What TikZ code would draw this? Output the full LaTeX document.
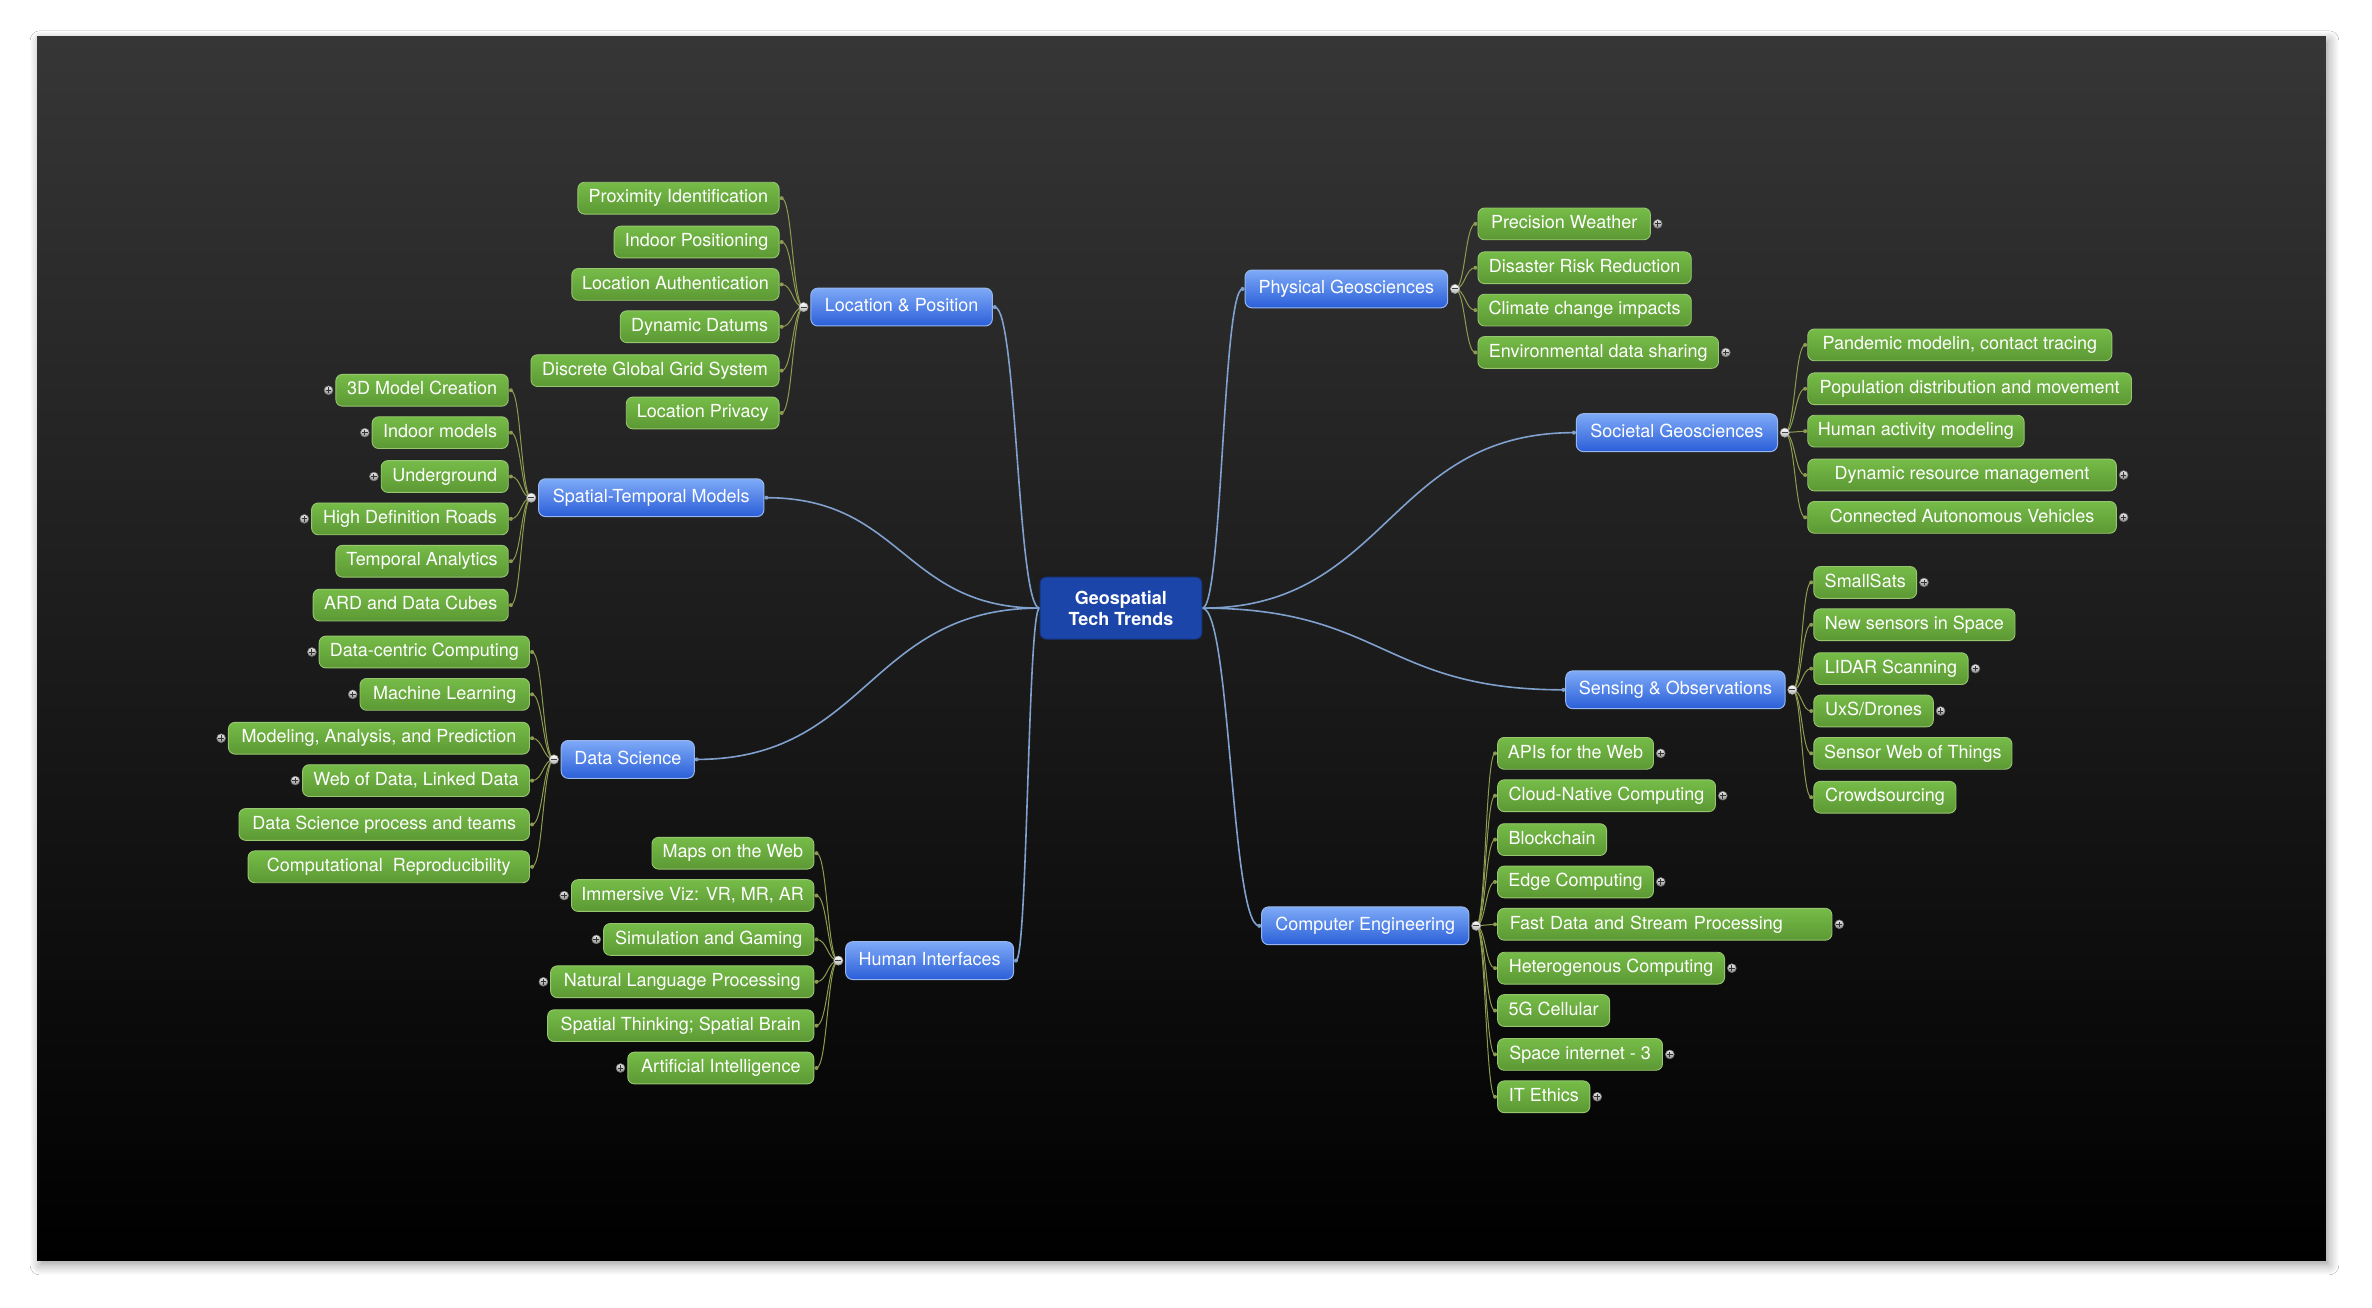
\documentclass[tikz,border=0pt]{standalone}
\usepackage{fontspec}
\setmainfont{TeX Gyre Heros}
\usepackage{tikz}
\usetikzlibrary{calc,positioning,shadows.blur}

\definecolor{panelgray}{RGB}{54,54,54}
\definecolor{hubblue}{RGB}{27,69,168}
\definecolor{hubline}{RGB}{22,52,128}
\definecolor{branchtop}{RGB}{126,170,247}
\definecolor{branchbot}{RGB}{42,94,216}
\definecolor{branchline}{RGB}{150,182,236}
\definecolor{leaftop}{RGB}{118,188,72}
\definecolor{leafbot}{RGB}{92,152,52}
\definecolor{leafline}{RGB}{150,198,112}
\definecolor{hubwirecol}{RGB}{128,160,206}
\definecolor{leafwirecol}{RGB}{140,156,80}

\newlength\pxu
\setlength\pxu{0.7564pt}

\pgfdeclarelayer{panel}
\pgfdeclarelayer{links}
\pgfsetlayers{panel,links,main}

\tikzset{
  hub/.style={rounded corners=3.3pt, fill=hubblue, draw=hubline, line width=.5pt,
    text=white, font=\bfseries\fontsize{9}{10.5}\selectfont, align=center,
    minimum width=107\pxu, minimum height=41\pxu, inner sep=0pt},
  branch/.style={rounded corners=3.5pt, draw=branchline, line width=.5pt,
    top color=branchtop, bottom color=branchbot, text=white,
    font=\fontsize{9}{10.5}\selectfont, text height=6.6pt, text depth=1.9pt,
    minimum height=25\pxu, inner xsep=5pt, inner ysep=0pt, outer xsep=1.2pt},
  branchL/.style={branch, anchor=east, xshift=1.2pt, minimum width=#1\pxu},
  branchR/.style={branch, anchor=west, xshift=-1.2pt, minimum width=#1\pxu},
  leaf/.style={rounded corners=3.3pt, draw=leafline, line width=.45pt,
    top color=leaftop, bottom color=leafbot, text=white,
    font=\fontsize{9}{10.5}\selectfont, text height=6.6pt, text depth=1.9pt,
    minimum height=21\pxu, inner xsep=5pt, inner ysep=0pt, outer xsep=1.3pt},
  leafL/.style={leaf, anchor=east, xshift=1.3pt, minimum width=#1\pxu},
  leafR/.style={leaf, anchor=west, xshift=-1.3pt, minimum width=#1\pxu},
  minusbtn/.style={circle, inner sep=0pt, minimum size=4.6pt, draw=black!40, line width=.3pt,
    top color=white, bottom color=black!30,
    path picture={\draw[black!75, line width=.5pt]
      ([xshift=-1.5pt]path picture bounding box.center) -- ([xshift=1.5pt]path picture bounding box.center);}},
  plusbtn/.style={circle, inner sep=0pt, minimum size=4.4pt, draw=black!55, line width=.3pt,
    top color=black!8, bottom color=black!45,
    path picture={\draw[black!80, line width=.45pt]
      ([xshift=-1.4pt]path picture bounding box.center) -- ([xshift=1.4pt]path picture bounding box.center)
      ([yshift=-1.4pt]path picture bounding box.center) -- ([yshift=1.4pt]path picture bounding box.center);}},
  hubwire/.style={color=hubwirecol, line width=.8pt},
  leafwire/.style={color=leafwirecol, line width=.5pt}
}

% curved connector, level at both ends
\newcommand\link[3][]{%
  \path (#2) -- coordinate[pos=.5] (lkmid) (#3);
  \begin{pgfonlayer}{links}
    \draw[#1] (#2) .. controls (lkmid |- #2) and (lkmid |- #3) .. (#3);
    \fill[#1] (#3) circle (1pt);
  \end{pgfonlayer}}

\begin{document}
\begin{tikzpicture}[x=\pxu, y=-\pxu]
\useasboundingbox (0,0) rectangle (1568,864);
\begin{pgfonlayer}{panel}
  \fill[white] (0,0) rectangle (1568,864);
  \shade[top color=panelgray, bottom color=black,
    blur shadow={shadow blur steps=10, shadow xshift=1.5pt, shadow yshift=-2pt, shadow blur radius=5pt}]
    (24.5,24.3) rectangle (1537.5,833.5);
\end{pgfonlayer}

\node[hub] (hub) at (741,402) {Geospatial\\Tech Trends};

% branches
\node[branchL=120] (lp) at (656,203) {Location \& Position};
\node[branchL=149] (stm) at (505,329) {Spatial-Temporal Models};
\node[branchL=88] (ds) at (459,502) {Data Science};
\node[branchL=111] (hi) at (670,635) {Human Interfaces};
\node[branchR=134] (pg) at (823,191) {Physical Geosciences};
\node[branchR=133] (sg) at (1042,286) {Societal Geosciences};
\node[branchR=145] (so) at (1035,456) {Sensing \& Observations};
\node[branchR=137] (ce) at (834,612) {Computer Engineering};

\node[minusbtn, left=0pt of lp] (lpm) {};
\node[minusbtn, left=0pt of stm] (stmm) {};
\node[minusbtn, left=0pt of ds] (dsm) {};
\node[minusbtn, left=0pt of hi] (him) {};
\node[minusbtn, right=0pt of pg] (pgm) {};
\node[minusbtn, right=0pt of sg] (sgm) {};
\node[minusbtn, right=0pt of so] (som) {};
\node[minusbtn, right=0pt of ce] (cem) {};

\link[hubwire]{hub.west}{lp.east}
\link[hubwire]{hub.west}{stm.east}
\link[hubwire]{hub.west}{ds.east}
\link[hubwire]{hub.west}{hi.east}
\link[hubwire]{hub.east}{pg.west}
\link[hubwire]{hub.east}{sg.west}
\link[hubwire]{hub.east}{so.west}
\link[hubwire]{hub.east}{ce.west}

% Location & Position
\node[leafL=133] (lp1) at (515,131) {Proximity Identification};
\node[leafL=109] (lp2) at (515,160) {Indoor Positioning};
\node[leafL=137] (lp3) at (515,188) {Location Authentication};
\node[leafL=105] (lp4) at (515,216) {Dynamic Datums};
\node[leafL=164] (lp5) at (515,245) {Discrete Global Grid System};
\node[leafL=101] (lp6) at (515,273) {Location Privacy};
\link[leafwire]{lpm.center}{lp1.east}
\link[leafwire]{lpm.center}{lp2.east}
\link[leafwire]{lpm.center}{lp3.east}
\link[leafwire]{lpm.center}{lp4.east}
\link[leafwire]{lpm.center}{lp5.east}
\link[leafwire]{lpm.center}{lp6.east}

% Spatial-Temporal Models
\node[leafL=114] (stm1) at (336,258) {3D Model Creation};
\node[leafL=90] (stm2) at (336,286) {Indoor models};
\node[leafL=84] (stm3) at (336,315) {Underground};
\node[leafL=130] (stm4) at (336,343) {High Definition Roads};
\node[leafL=114] (stm5) at (336,371) {Temporal Analytics};
\node[leafL=129] (stm6) at (336,400) {ARD and Data Cubes};
\node[plusbtn, left=0pt of stm1] (stm1p) {};
\node[plusbtn, left=0pt of stm2] (stm2p) {};
\node[plusbtn, left=0pt of stm3] (stm3p) {};
\node[plusbtn, left=0pt of stm4] (stm4p) {};
\link[leafwire]{stmm.center}{stm1.east}
\link[leafwire]{stmm.center}{stm2.east}
\link[leafwire]{stmm.center}{stm3.east}
\link[leafwire]{stmm.center}{stm4.east}
\link[leafwire]{stmm.center}{stm5.east}
\link[leafwire]{stmm.center}{stm6.east}

% Data Science
\node[leafL=139] (ds1) at (350,431) {Data-centric Computing};
\node[leafL=112] (ds2) at (350,459) {Machine Learning};
\node[leafL=199] (ds3) at (350,488) {Modeling, Analysis, and Prediction};
\node[leafL=150] (ds4) at (350,516) {Web of Data, Linked Data};
\node[leafL=192] (ds5) at (350,545) {Data Science process and teams};
\node[leafL=186] (ds6) at (350,573) {Computational\ \ Reproducibility};
\node[plusbtn, left=0pt of ds1] (ds1p) {};
\node[plusbtn, left=0pt of ds2] (ds2p) {};
\node[plusbtn, left=0pt of ds3] (ds3p) {};
\node[plusbtn, left=0pt of ds4] (ds4p) {};
\link[leafwire]{dsm.center}{ds1.east}
\link[leafwire]{dsm.center}{ds2.east}
\link[leafwire]{dsm.center}{ds3.east}
\link[leafwire]{dsm.center}{ds4.east}
\link[leafwire]{dsm.center}{ds5.east}
\link[leafwire]{dsm.center}{ds6.east}

% Human Interfaces
\node[leafL=107] (hi1) at (538,564) {Maps on the Web};
\node[leafL=160] (hi2) at (538,592) {Immersive Viz: VR, MR, AR};
\node[leafL=139] (hi3) at (538,621) {Simulation and Gaming};
\node[leafL=174] (hi4) at (538,649) {Natural Language Processing};
\node[leafL=176] (hi5) at (538,678) {Spatial Thinking; Spatial Brain};
\node[leafL=123] (hi6) at (538,706) {Artificial Intelligence};
\node[plusbtn, left=0pt of hi2] (hi2p) {};
\node[plusbtn, left=0pt of hi3] (hi3p) {};
\node[plusbtn, left=0pt of hi4] (hi4p) {};
\node[plusbtn, left=0pt of hi6] (hi6p) {};
\link[leafwire]{him.center}{hi1.east}
\link[leafwire]{him.center}{hi2.east}
\link[leafwire]{him.center}{hi3.east}
\link[leafwire]{him.center}{hi4.east}
\link[leafwire]{him.center}{hi5.east}
\link[leafwire]{him.center}{hi6.east}

% Physical Geosciences
\node[leafR=114] (pg1) at (977,148) {Precision Weather};
\node[leafR=141] (pg2) at (977,177) {Disaster Risk Reduction};
\node[leafR=141] (pg3) at (977,205) {Climate change impacts};
\node[leafR=159] (pg4) at (977,233) {Environmental data sharing};
\node[plusbtn, right=0pt of pg1] (pg1p) {};
\node[plusbtn, right=0pt of pg4] (pg4p) {};
\link[leafwire]{pgm.center}{pg1.west}
\link[leafwire]{pgm.center}{pg2.west}
\link[leafwire]{pgm.center}{pg3.west}
\link[leafwire]{pgm.center}{pg4.west}

% Societal Geosciences
\node[leafR=201] (sg1) at (1195,228) {Pandemic modelin, contact tracing};
\node[leafR=214] (sg2) at (1195,257) {Population distribution and movement};
\node[leafR=143] (sg3) at (1195,285) {Human activity modeling};
\node[leafR=204] (sg4) at (1195,314) {Dynamic resource management};
\node[leafR=204] (sg5) at (1195,342) {Connected Autonomous Vehicles};
\node[plusbtn, right=0pt of sg4] (sg4p) {};
\node[plusbtn, right=0pt of sg5] (sg5p) {};
\link[leafwire]{sgm.center}{sg1.west}
\link[leafwire]{sgm.center}{sg2.west}
\link[leafwire]{sgm.center}{sg3.west}
\link[leafwire]{sgm.center}{sg4.west}
\link[leafwire]{sgm.center}{sg5.west}

% Sensing & Observations
\node[leafR=68] (so1) at (1199,385) {SmallSats};
\node[leafR=133] (so2) at (1199,413) {New sensors in Space};
\node[leafR=102] (so3) at (1199,442) {LIDAR Scanning};
\node[leafR=79] (so4) at (1199,470) {UxS/Drones};
\node[leafR=131] (so5) at (1199,498) {Sensor Web of Things};
\node[leafR=94] (so6) at (1199,527) {Crowdsourcing};
\node[plusbtn, right=0pt of so1] (so1p) {};
\node[plusbtn, right=0pt of so3] (so3p) {};
\node[plusbtn, right=0pt of so4] (so4p) {};
\link[leafwire]{som.center}{so1.west}
\link[leafwire]{som.center}{so2.west}
\link[leafwire]{som.center}{so3.west}
\link[leafwire]{som.center}{so4.west}
\link[leafwire]{som.center}{so5.west}
\link[leafwire]{som.center}{so6.west}

% Computer Engineering
\node[leafR=103] (ce1) at (990,498) {APIs for the Web};
\node[leafR=144] (ce2) at (990,526) {Cloud-Native Computing};
\node[leafR=72] (ce3) at (990,555) {Blockchain};
\node[leafR=103] (ce4) at (990,583) {Edge Computing};
\node[leafR=221, text width=155pt, align=left] (ce5) at (990,611) {Fast Data and Stream Processing};
\node[leafR=150] (ce6) at (990,640) {Heterogenous Computing};
\node[leafR=74] (ce7) at (990,668) {5G Cellular};
\node[leafR=109] (ce8) at (990,697) {Space internet - 3};
\node[leafR=61] (ce9) at (990,725) {IT Ethics};
\node[plusbtn, right=0pt of ce1] (ce1p) {};
\node[plusbtn, right=0pt of ce2] (ce2p) {};
\node[plusbtn, right=0pt of ce4] (ce4p) {};
\node[plusbtn, right=0pt of ce5] (ce5p) {};
\node[plusbtn, right=0pt of ce6] (ce6p) {};
\node[plusbtn, right=0pt of ce8] (ce8p) {};
\node[plusbtn, right=0pt of ce9] (ce9p) {};
\link[leafwire]{cem.center}{ce1.west}
\link[leafwire]{cem.center}{ce2.west}
\link[leafwire]{cem.center}{ce3.west}
\link[leafwire]{cem.center}{ce4.west}
\link[leafwire]{cem.center}{ce5.west}
\link[leafwire]{cem.center}{ce6.west}
\link[leafwire]{cem.center}{ce7.west}
\link[leafwire]{cem.center}{ce8.west}
\link[leafwire]{cem.center}{ce9.west}
\end{tikzpicture}
\end{document}
